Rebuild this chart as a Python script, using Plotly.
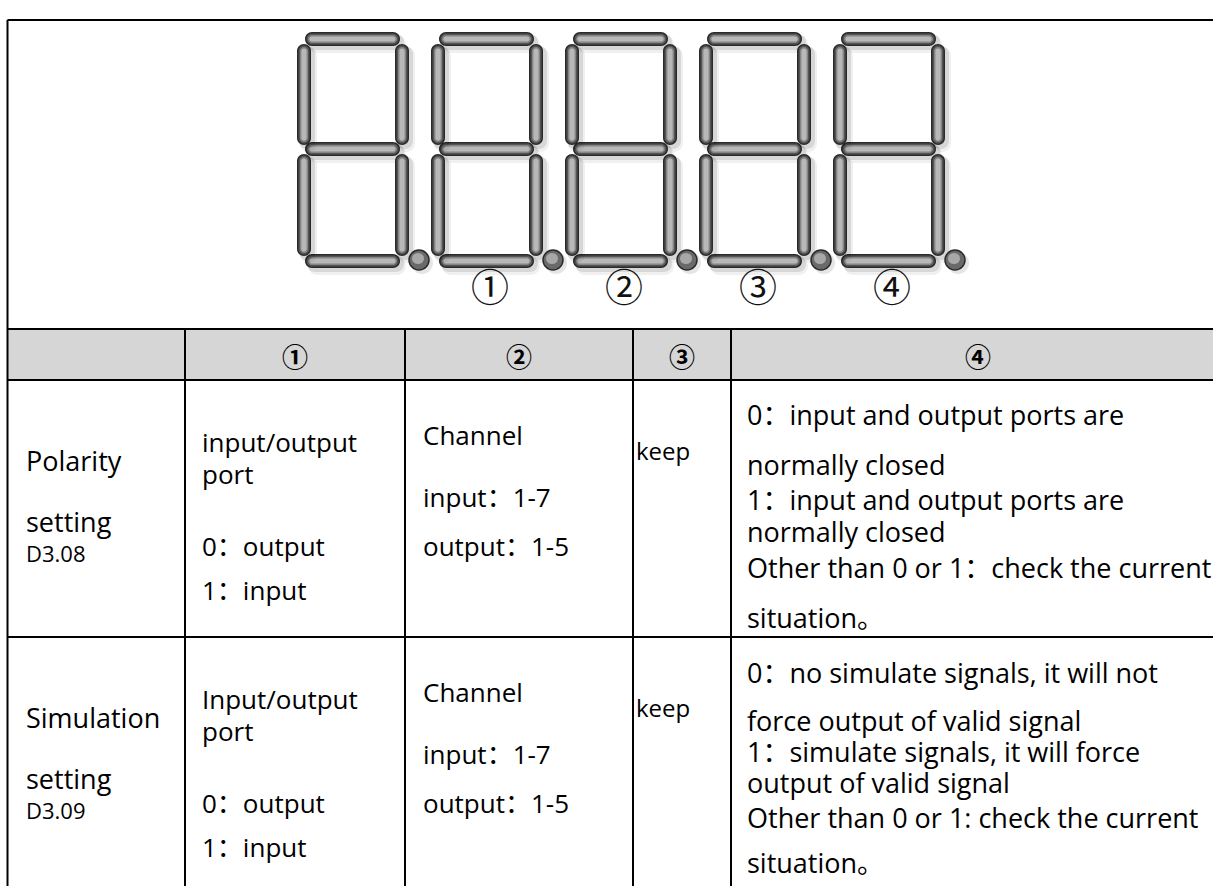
import plotly.graph_objects as go

# ---------------- data (texts) ----------------
display_labels = ["①", "②", "③", "④"]
header_labels = ["", "①", "②", "③", "④"]
row_labels = [["Polarity", "setting", "D3.08"],
              ["Simulation", "setting", "D3.09"]]
port_texts = [["input/output", "port", "0：output", "1：input"],
              ["Input/output", "port", "0：output", "1：input"]]
channel_texts = [["Channel", "input：1-7", "output：1-5"],
                 ["Channel", "input：1-7", "output：1-5"]]
reserved_texts = ["keep", "keep"]
desc_texts = [["0：input and output ports are", "normally closed",
               "1：input and output ports are", "normally closed",
               "Other than 0 or 1：check the current", "situation。"],
              ["0：no simulate signals, it will not", "force output of valid signal",
               "1：simulate signals, it will force", "output of valid signal",
               "Other than 0 or 1: check the current", "situation。"]]

# ---------------- layout constants ----------------
W, H = 1213, 886
FONT = "Open Sans, Noto Sans CJK SC, sans-serif"
CJK = "Noto Sans CJK SC, sans-serif"
shapes = []
annotations = []

K = 0.5523


def capsule(x1, y1, x2, y2):
    w, h = x2 - x1, y2 - y1
    if w >= h:
        r = h / 2
        cy = (y1 + y2) / 2
        return (f"M{x1+r},{y1} L{x2-r},{y1} "
                f"C{x2-r+K*r},{y1} {x2},{cy-K*r} {x2},{cy} "
                f"C{x2},{cy+K*r} {x2-r+K*r},{y2} {x2-r},{y2} "
                f"L{x1+r},{y2} "
                f"C{x1+r-K*r},{y2} {x1},{cy+K*r} {x1},{cy} "
                f"C{x1},{cy-K*r} {x1+r-K*r},{y1} {x1+r},{y1} Z")
    r = w / 2
    cx = (x1 + x2) / 2
    return (f"M{x1},{y1+r} C{x1},{y1+r-K*r} {cx-K*r},{y1} {cx},{y1} "
            f"C{cx+K*r},{y1} {x2},{y1+r-K*r} {x2},{y1+r} "
            f"L{x2},{y2-r} C{x2},{y2-r+K*r} {cx+K*r},{y2} {cx},{y2} "
            f"C{cx-K*r},{y2} {x1},{y2-r+K*r} {x1},{y2-r} Z")


def segment(x1, y1, x2, y2):
    # soft shadow
    shapes.append(dict(type="path", path=capsule(x1 + 3, y1 + 3, x2 + 6, y2 + 7),
                       fillcolor="rgba(0,0,0,0.06)", line=dict(width=0), layer="above"))
    shapes.append(dict(type="path", path=capsule(x1 + 2, y1 + 2, x2 + 4, y2 + 4),
                       fillcolor="rgba(0,0,0,0.10)", line=dict(width=0), layer="above"))
    layers = [(0, "#2a2a2a"), (1.5, "#555555"), (3.0, "#858585"), (4.4, "#b8b8b8")]
    for d, c in layers:
        shapes.append(dict(type="path", path=capsule(x1 + d, y1 + d, x2 - d, y2 - d),
                           fillcolor=c, line=dict(width=0), layer="above"))


# ---------------- seven-segment display ----------------
digit_x0 = [297 + i * 134 for i in range(5)]
for x0 in digit_x0:
    # horizontal segments
    for (ya, yb) in [(32, 46), (142, 156), (254, 268)]:
        segment(x0 + 8, ya, x0 + 103, yb)
    # vertical segments
    for xa in [0, 98]:
        segment(x0 + xa, 44, x0 + xa + 14, 145)
        segment(x0 + xa, 154, x0 + xa + 14, 256)
    # decimal point
    cx, cy, r = x0 + 122, 260, 10
    shapes.append(dict(type="circle", x0=cx - r + 2, y0=cy - r + 2, x1=cx + r + 4, y1=cy + r + 4,
                       fillcolor="rgba(0,0,0,0.10)", line=dict(width=0), layer="above"))
    shapes.append(dict(type="circle", x0=cx - r, y0=cy - r, x1=cx + r, y1=cy + r,
                       fillcolor="#6a6a6a", line=dict(color="#2a2a2a", width=1.5), layer="above"))
    shapes.append(dict(type="circle", x0=cx - r + 3, y0=cy - r + 3, x1=cx + r - 5, y1=cy + r - 6,
                       fillcolor="#a8a8a8", line=dict(width=0), layer="above"))

for i, lab in enumerate(display_labels):
    annotations.append(dict(x=digit_x0[i + 1] + 59, y=284, text=lab, showarrow=False,
                            xanchor="center", yanchor="middle",
                            font=dict(family=CJK, size=38, color="#111")))

# ---------------- table ----------------
LEFT, TOP = 7.5, 20
HEAD_T, HEAD_B, ROW_DIV = 329, 380, 637
col_lines = [185, 405, 633, 731]
RIGHT = 1225

shapes.insert(0, dict(type="rect", x0=LEFT, x1=RIGHT, y0=HEAD_T, y1=HEAD_B,
                      fillcolor="#d6d6d6", line=dict(width=0), layer="below"))
lw = dict(color="black", width=2)
shapes += [
    dict(type="line", x0=LEFT, x1=LEFT, y0=TOP, y1=H + 10, line=lw),
    dict(type="line", x0=LEFT, x1=RIGHT, y0=TOP, y1=TOP, line=lw),
    dict(type="line", x0=LEFT, x1=RIGHT, y0=HEAD_T, y1=HEAD_T, line=lw),
    dict(type="line", x0=LEFT, x1=RIGHT, y0=HEAD_B, y1=HEAD_B, line=lw),
    dict(type="line", x0=LEFT, x1=RIGHT, y0=ROW_DIV, y1=ROW_DIV, line=lw),
]
for cx in col_lines:
    shapes.append(dict(type="line", x0=cx, x1=cx, y0=HEAD_T, y1=H + 10, line=lw))

col_edges = [LEFT] + col_lines + [RIGHT]
for j, lab in enumerate(header_labels):
    if lab:
        annotations.append(dict(x=(col_edges[j] + col_edges[j + 1]) / 2, y=355, text=f"<b>{lab}</b>",
                                showarrow=False, xanchor="center", yanchor="middle",
                                font=dict(family=CJK, size=26, color="black")))

row_tops = [HEAD_B, ROW_DIV]
off_label = [80, 141, 173]
off_port = [62, 94, 166, 210]
off_chan = [55, 117, 166]
off_keep = 70
off_desc = [[34, 84, 119, 151, 187, 237], [35, 83, 114, 145, 180, 225]]


def txt(x, y, s, size=27):
    annotations.append(dict(x=x, y=y, text=s, showarrow=False, xanchor="left", yanchor="middle",
                            font=dict(family=FONT, size=size, color="black")))


for r in range(2):
    t = row_tops[r]
    for k, s in enumerate(row_labels[r]):
        txt(24, t + off_label[k], s, 22 if k == 2 else 27)
    for k, s in enumerate(port_texts[r]):
        txt(200, t + off_port[k], s, 26)
    for k, s in enumerate(channel_texts[r]):
        txt(421, t + off_chan[k], s, 26)
    txt(634, t + off_keep, reserved_texts[r], 24)
    for k, s in enumerate(desc_texts[r]):
        txt(745, t + off_desc[r][k], s, 27)

fig = go.Figure()
fig.update_layout(
    width=W, height=H, margin=dict(l=0, r=0, t=0, b=0),
    paper_bgcolor="white", plot_bgcolor="white",
    xaxis=dict(range=[0, W], visible=False, fixedrange=True),
    yaxis=dict(range=[H, 0], visible=False, fixedrange=True),
    shapes=shapes, annotations=annotations, showlegend=False,
)
fig.write_html("out.html", config=dict(displayModeBar=False),
               post_script="document.body.style.margin='0px';document.body.style.overflow='hidden';")
